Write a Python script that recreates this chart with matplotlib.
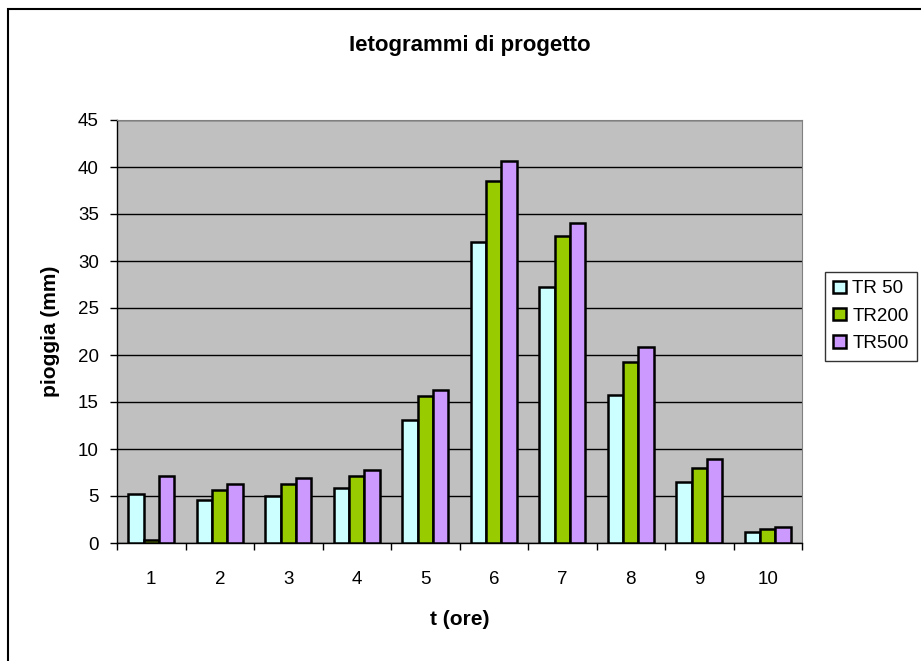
import matplotlib.pyplot as plt
import numpy as np
from matplotlib.patches import Rectangle

plt.rcParams['font.family'] = ['Liberation Sans', 'DejaVu Sans']

ore = [1, 2, 3, 4, 5, 6, 7, 8, 9, 10]
tr50 = [5.2, 4.6, 5.0, 5.9, 13.1, 32.0, 27.2, 15.7, 6.5, 1.2]
tr200 = [0.3, 5.6, 6.3, 7.1, 15.6, 38.5, 32.7, 19.3, 8.0, 1.45]
tr500 = [7.1, 6.3, 6.9, 7.8, 16.3, 40.6, 34.0, 20.8, 8.9, 1.65]
serie = ["TR 50", "TR200", "TR500"]
colori = ["#ccffff", "#99cc00", "#cc99ff"]

fig = plt.figure(figsize=(9.21, 6.61), dpi=100)
ax = fig.add_axes([117 / 921, 1 - 543 / 661, 685 / 921, 423 / 661])
ax.set_facecolor("#c0c0c0")

x = np.arange(len(ore))
w = 0.224
for i, (vals, nome, col) in enumerate(zip([tr50, tr200, tr500], serie, colori)):
    ax.bar(x + (i - 1) * w, vals, width=w, color=col, edgecolor="black",
           linewidth=1.8, label=nome, zorder=3)

ax.set_xlim(-0.5, len(ore) - 0.5)
ax.set_ylim(0, 45)
ax.set_yticks(range(0, 46, 5))
ax.yaxis.grid(True, color="black", linewidth=1.0, zorder=1)
ax.set_xticks(x)
ax.set_xticklabels([str(o) for o in ore])
ax.set_xticks(np.arange(-0.5, len(ore), 1), minor=True)
ax.tick_params(axis="x", which="major", length=0, labelsize=13.5, pad=20)
ax.tick_params(axis="x", which="minor", length=5, width=1, direction="out")
ax.tick_params(axis="y", length=5, width=1, direction="out", labelsize=13.5,
               pad=8)
for s in ["top", "right"]:
    ax.spines[s].set_color("#808080")
ax.spines["left"].set_linewidth(1)
ax.spines["bottom"].set_linewidth(1)

ax.set_xlabel("t (ore)", fontsize=15, fontweight="bold", labelpad=16)
ax.set_ylabel("pioggia (mm)", fontsize=15, fontweight="bold", labelpad=13)
fig.text(470 / 921, 1 - 45 / 661, "Ietogrammi di progetto",
         ha="center", va="center", fontsize=16, fontweight="bold")

leg = ax.legend(loc="upper left", bbox_to_anchor=(825 / 921, 1 - 272 / 661),
                bbox_transform=fig.transFigure, frameon=True, fancybox=False,
                fontsize=13.5, handlelength=0.65, handleheight=0.65,
                borderpad=0.45, labelspacing=0.55, handletextpad=0.35,
                borderaxespad=0)
leg.get_frame().set_edgecolor("black")
leg.get_frame().set_linewidth(1)

# cornice del grafico
fig.patches.append(Rectangle((8 / 921, -0.1), 1.2, 1 - 9 / 661 + 0.1,
                             transform=fig.transFigure, fill=False,
                             edgecolor="black", linewidth=1.5))

fig.savefig("out.png", dpi=100)
